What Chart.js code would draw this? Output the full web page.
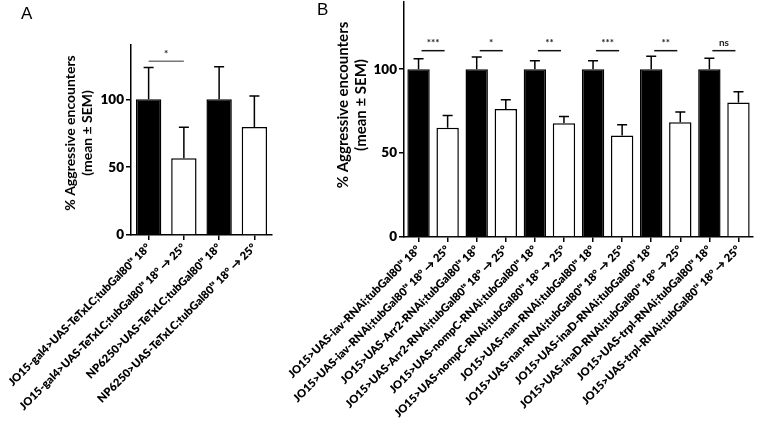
<!DOCTYPE html>
<html>
<head>
<meta charset="utf-8">
<script src="https://cdn.jsdelivr.net/npm/chart.js@4.4.1/dist/chart.umd.min.js"></script>
<style>
  body { margin: 0; background: #fff; }
  #wrap { position: relative; width: 760px; height: 430px; }
  #chartA { position: absolute; left: 0; top: 0; }
  #chartB { position: absolute; left: 280px; top: 0; }
  .panel { position: absolute; font: 17px 'Liberation Sans', Arial, sans-serif; color: #000; }
</style>
</head>
<body>
<div id="wrap">
  <canvas id="chartA" width="280" height="430"></canvas>
  <canvas id="chartB" width="480" height="430"></canvas>
  <div class="panel" style="left:21px;top:4px">A</div>
  <div class="panel" style="left:317px;top:0px">B</div>
</div>
<script>
// panel A
const labelsA = [
  'JO15-gal4>UAS-TeTxLC;tubGal80ᵗˢ 18°',
  'JO15-gal4>UAS-TeTxLC;tubGal80ᵗˢ 18° → 25°',
  'NP6250>UAS-TeTxLC;tubGal80ᵗˢ 18°',
  'NP6250>UAS-TeTxLC;tubGal80ᵗˢ 18° → 25°'
];
const meansA = [100, 56.6, 100, 79.5];
const semA = [23.4, 22.8, 24, 23];
const sigPairsA = [[0, 1]];
const sigTextA = ['*'];
const sigLevelA = [128];

// panel B
const labelsB = [
  'JO15>UAS-iav-RNAi;tubGal80ᵗˢ 18°',
  'JO15>UAS-iav-RNAi;tubGal80ᵗˢ 18° → 25°',
  'JO15>UAS-Arr2-RNAi;tubGal80ᵗˢ 18°',
  'JO15>UAS-Arr2-RNAi;tubGal80ᵗˢ 18° → 25°',
  'JO15>UAS-nompC-RNAi;tubGal80ᵗˢ 18°',
  'JO15>UAS-nompC-RNAi;tubGal80ᵗˢ 18° → 25°',
  'JO15>UAS-nan-RNAi;tubGal80ᵗˢ 18°',
  'JO15>UAS-nan-RNAi;tubGal80ᵗˢ 18° → 25°',
  'JO15>UAS-inaD-RNAi;tubGal80ᵗˢ 18°',
  'JO15>UAS-inaD-RNAi;tubGal80ᵗˢ 18° → 25°',
  'JO15>UAS-trpl-RNAi;tubGal80ᵗˢ 18°',
  'JO15>UAS-trpl-RNAi;tubGal80ᵗˢ 18° → 25°'
];
const meansB = [100, 65.1, 100, 76.2, 100, 67.7, 100, 60.5, 100, 68.4, 100, 80.1];
const semB = [6.2, 7.3, 7.3, 5.5, 5, 4.1, 5, 6.4, 7.7, 6.1, 6.5, 6.5];
const sigPairsB = [[0, 1], [2, 3], [4, 5], [6, 7], [8, 9], [10, 11]];
const sigTextB = ['***', '*', '**', '***', '**', 'ns'];
const sigLevelB = [111, 111, 111, 111, 111, 111];

const yTicks = [0, 50, 100];
const yMax = 140;
const yTitle = ['% Aggressive encounters', '(mean ± SEM)'];

const FONT = "Lato, 'DejaVu Sans', sans-serif";
const fillFor = v => v.map((_, i) => i % 2 === 0 ? '#000' : '#fff');

const errorBars = {
  id: 'errorBars',
  afterDatasetsDraw(chart, args, opts) {
    const { ctx, scales: { x, y } } = chart;
    const meta = chart.getDatasetMeta(0);
    const data = chart.data.datasets[0].data;
    ctx.save();
    ctx.strokeStyle = '#000';
    ctx.lineWidth = 1.5;
    opts.sem.forEach((s, i) => {
      const bx = meta.data[i].x;
      const yb = y.getPixelForValue(data[i]);
      const yt = y.getPixelForValue(data[i] + s);
      ctx.beginPath();
      ctx.moveTo(bx, yb);
      ctx.lineTo(bx, yt);
      ctx.moveTo(bx - opts.cap, yt);
      ctx.lineTo(bx + opts.cap, yt);
      ctx.stroke();
    });
    // significance lines
    ctx.strokeStyle = opts.sigColor;
    ctx.fillStyle = '#222';
    ctx.font = 'bold 10px ' + FONT;
    ctx.textAlign = 'center';
    ctx.textBaseline = 'bottom';
    opts.pairs.forEach((p, i) => {
      const x1 = x.getPixelForValue(p[0]) + opts.inset;
      const x2 = x.getPixelForValue(p[1]) - opts.inset;
      const yy = y.getPixelForValue(opts.levels[i]);
      ctx.beginPath();
      ctx.moveTo(x1, yy);
      ctx.lineTo(x2, yy);
      ctx.stroke();
      ctx.fillText(opts.texts[i], (x1 + x2) / 2, yy - 3);
    });
    // y axis title (two lines, rotated)
    ctx.fillStyle = '#000';
    ctx.font = 'bold ' + opts.titleSize + 'px ' + FONT;
    ctx.textBaseline = 'middle';
    ctx.translate(opts.titleX, opts.titleY);
    ctx.rotate(-Math.PI / 2);
    yTitle.forEach((t, i) => ctx.fillText(t, 0, i * opts.titleGap));
    ctx.restore();
  }
};

function makeChart(id, labels, means, sem, pairs, texts, levels, cfg) {
  return new Chart(document.getElementById(id), {
    type: 'bar',
    data: {
      labels: labels,
      datasets: [{
        data: means,
        backgroundColor: fillFor(means),
        borderColor: '#000',
        borderWidth: 1.5,
        categoryPercentage: 1,
        barPercentage: cfg.barPct
      }]
    },
    options: {
      responsive: false,
      animation: false,
      layout: { padding: cfg.padding },
      plugins: {
        legend: { display: false },
        tooltip: { enabled: false },
        errorBars: {
          sem: sem, cap: 5, pairs: pairs, texts: texts, levels: levels,
          inset: cfg.inset, sigColor: cfg.sigColor,
          titleX: cfg.titleX, titleY: cfg.titleY, titleSize: cfg.titleSize, titleGap: cfg.titleGap
        }
      },
      scales: {
        x: {
          grid: { offset: false, drawOnChartArea: false, tickLength: 5, color: '#000', lineWidth: 1.5 },
          border: { color: '#000', width: 1.5 },
          ticks: { autoSkip: false, minRotation: 45, maxRotation: 45, padding: 1, color: '#000',
                   font: { family: FONT, size: 11.2, weight: '800' } },
          afterFit: s => { s.height = cfg.xHeight; s.paddingLeft = 0; s.paddingRight = 0; }
        },
        y: {
          min: 0,
          max: yMax,
          ticks: { stepSize: 50, padding: 2, color: '#000', font: { family: FONT, size: 13.5, weight: '800' } },
          afterBuildTicks: s => { s.ticks = yTicks.map(v => ({ value: v })); },
          grid: { drawOnChartArea: false, tickLength: 5, color: '#000', lineWidth: 1.5 },
          border: { color: '#000', width: 1.5 },
          afterFit: s => { s.width = cfg.yWidth; s.paddingTop = 0; s.paddingBottom = 0; }
        }
      }
    },
    plugins: [errorBars]
  });
}

makeChart('chartA', labelsA, meansA, semA, sigPairsA, sigTextA, sigLevelA, {
  padding: { left: 61, top: 45, right: 8, bottom: 0 },
  yWidth: 70, xHeight: 195, barPct: 0.72, inset: 0, sigColor: '#777',
  titleX: 70, titleY: 133, titleSize: 14, titleGap: 17
});

makeChart('chartB', labelsB, meansB, semB, sigPairsB, sigTextB, sigLevelB, {
  padding: { left: 52, top: 2, right: 7, bottom: 0 },
  yWidth: 72, xHeight: 193, barPct: 0.77, inset: 3, sigColor: '#111',
  titleX: 63, titleY: 105, titleSize: 15, titleGap: 18
});
</script>
</body>
</html>
